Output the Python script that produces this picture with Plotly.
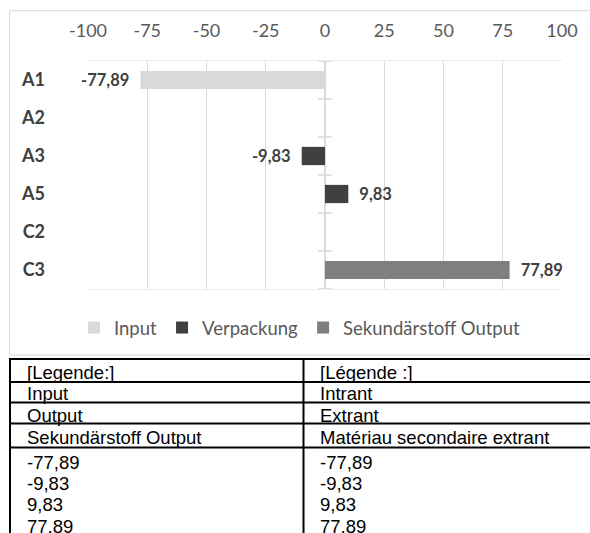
import plotly.graph_objects as go

# ---------------- data ----------------
categories = ["A1", "A2", "A3", "A5", "C2", "C3"]
series_names = ["Input", "Verpackung", "Sekundärstoff Output"]
input_cats = ["A1"]
input_vals = [-77.89]
verpackung_cats = ["A3", "A5"]
verpackung_vals = [-9.83, 9.83]
sekundaer_cats = ["C3"]
sekundaer_vals = [77.89]
x_ticks = [-100, -75, -50, -25, 0, 25, 50, 75, 100]

table_de = ["[Legende:]", "Input", "Output", "Sekundärstoff Output"]
table_fr = ["[Légende :]", "Intrant", "Extrant", "Matériau secondaire extrant"]
table_values = ["-77,89", "-9,83", "9,83", "77,89"]

# ---------------- layout geometry ----------------
W, H = 590, 533
L, R, T, B = 88, 28, 61, 244
PW = W - L - R
PH = H - T - B


def px_x(X):
    return (X - L) / PW


def px_y(Y):
    return (H - B - Y) / PH


colors = ["#d9d9d9", "#404040", "#7f7f7f"]
NB = "\u00a0"


def labels(vals):
    out = []
    for v in vals:
        s = f"{v:.2f}".replace(".", ",")
        out.append(s + NB * 2 if v < 0 else NB * 2 + s)
    return out


fig = go.Figure()
for name, cats, vals, col in [
    (series_names[0], input_cats, input_vals, colors[0]),
    (series_names[1], verpackung_cats, verpackung_vals, colors[1]),
    (series_names[2], sekundaer_cats, sekundaer_vals, colors[2]),
]:
    fig.add_trace(go.Bar(
        name=name, y=cats, x=vals, orientation="h",
        marker=dict(color=col, line=dict(width=0)),
        width=0.48,
        text=labels(vals), textposition="outside", constraintext="none",
        textfont=dict(family="Lato", size=16.5, color="#404040", weight="bold"),
        cliponaxis=False,
    ))

shapes = []
# small tick marks on the category axis at x = 0
for i in range(len(categories) + 1):
    shapes.append(dict(type="line", xref="x", yref="y", xsizemode="pixel",
                       xanchor=0, x0=-7, x1=7, y0=i - 0.5, y1=i - 0.5,
                       line=dict(color="#d9d9d9", width=1.5)))
# chart border
shapes.append(dict(type="rect", xref="paper", yref="paper",
                   x0=px_x(9.5), x1=px_x(620), y0=px_y(355), y1=px_y(10.7),
                   line=dict(color="#d9d9d9", width=1), layer="below"))

# table lines
tbl_left, tbl_div, tbl_right = 10, 303.5, 620
row_lines = [359, 382, 402.5, 423.5, 447.5]
for yy in row_lines:
    shapes.append(dict(type="line", xref="paper", yref="paper",
                       x0=px_x(tbl_left - 1), x1=px_x(tbl_right),
                       y0=px_y(yy), y1=px_y(yy),
                       line=dict(color="black", width=2)))
for xx in [tbl_left, tbl_div]:
    shapes.append(dict(type="line", xref="paper", yref="paper",
                       x0=px_x(xx), x1=px_x(xx),
                       y0=px_y(row_lines[0]), y1=px_y(560),
                       line=dict(color="black", width=2)))

annotations = []
row_centers = [372.5, 393.5, 415.5, 437.5, 462, 483.5, 505, 526.5]
col1 = table_de + table_values
col2 = table_fr + table_values
for yc, t1, t2 in zip(row_centers, col1, col2):
    for xx, t in [(25, t1), (318, t2)]:
        annotations.append(dict(xref="paper", yref="paper", x=px_x(xx),
                                y=px_y(yc), xanchor="left", yanchor="middle",
                                text=t, showarrow=False,
                                font=dict(family="Liberation Sans", size=18.5,
                                          color="black")))

fig.update_layout(
    width=W, height=H,
    margin=dict(l=L, r=R, t=T, b=B, autoexpand=False),
    paper_bgcolor="white", plot_bgcolor="white",
    barmode="relative",
    separators=",.",
    showlegend=True,
    legend=dict(orientation="h", x=px_x(88 - 14), xanchor="left",
                y=px_y(328), yanchor="middle",
                font=dict(family="Lato", size=18.5, color="#595959"),
                traceorder="normal", bgcolor="rgba(0,0,0,0)"),
    xaxis=dict(side="top", range=[-100, 100], tickvals=x_ticks,
               ticktext=[str(v) for v in x_ticks],
               showgrid=True, gridcolor="#d9d9d9", gridwidth=1,
               zeroline=True, zerolinecolor="#d9d9d9", zerolinewidth=1.5,
               showline=True, mirror=True, linecolor="#ececec", linewidth=1,
               ticks="", ticklabelstandoff=16,
               tickfont=dict(family="Lato", size=18, color="#595959"),
               fixedrange=True),
    yaxis=dict(type="category", categoryorder="array", categoryarray=categories,
               range=[len(categories) - 0.5, -0.5],
               showgrid=False, zeroline=False, showline=False, ticks="",
               ticklabelstandoff=42,
               tickfont=dict(family="Lato", size=18, color="#404040", weight="bold"),
               fixedrange=True),
    shapes=shapes,
    annotations=annotations,
)

fig.write_html("out.html", config={"displayModeBar": False},
               post_script="document.body.style.margin='0';document.body.style.overflow='hidden';")
